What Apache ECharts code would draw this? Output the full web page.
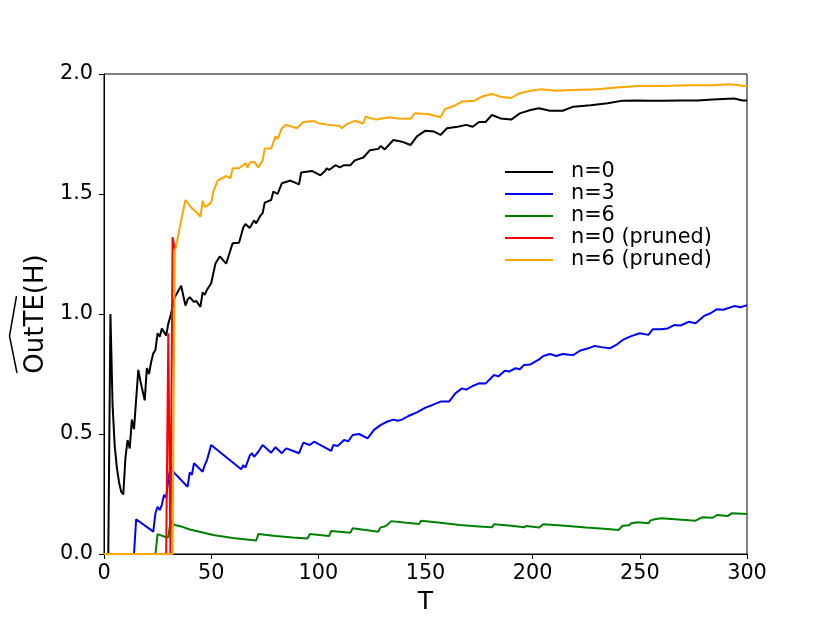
<!DOCTYPE html>
<html>
<head>
<meta charset="utf-8">
<script src="https://cdn.jsdelivr.net/npm/echarts@6/dist/echarts.min.js"></script>
<style>
html,body{margin:0;padding:0;background:#fff;}
#chart{width:830px;height:623px;}
</style>
</head>
<body>
<div id="chart"></div>
<script>
// ---- data: [T, value] ----
const seriesNames = ['n=0', 'n=3', 'n=6', 'n=0 (pruned)', 'n=6 (pruned)'];
const xTicks = [0, 50, 100, 150, 200, 250, 300];
const yTicks = [0.0, 0.5, 1.0, 1.5, 2.0];

const n0 = [[0,0],[2,0],[3,1.0],[4,0.62],[5,0.45],[6,0.36],[7,0.3],[8,0.26],[9,0.248],[10,0.4],[11,0.475],[12,0.44],[13,0.56],[14,0.52],[16,0.767],[17,0.72],[19,0.64],[20,0.775],[21,0.75],[22,0.8],[23,0.836],[24,0.85],[25,0.92],[26,0.905],[27,0.94],[28,0.925],[29,0.91],[30,0.96],[31,0.99],[33,1.07],[36,1.118],[38,1.035],[39,1.06],[40,1.07],[42,1.05],[43,1.055],[45,1.03],[46,1.09],[47,1.08],[48,1.1],[50,1.128],[52,1.21],[54,1.24],[57,1.21],[60,1.295],[63,1.297],[65,1.36],[66,1.375],[68,1.358],[70,1.39],[71,1.378],[73,1.41],[74,1.42],[75,1.464],[78,1.475],[79,1.51],[81,1.5],[83,1.545],[87,1.556],[91,1.54],[92,1.59],[97,1.596],[101,1.578],[103,1.595],[104,1.607],[105,1.6],[108,1.62],[110,1.611],[112,1.62],[115,1.62],[117,1.64],[121,1.652],[124,1.682],[128,1.688],[129,1.7],[131,1.686],[135,1.725],[139,1.718],[143,1.704],[146,1.74],[150,1.764],[154,1.76],[157,1.746],[160,1.774],[165,1.78],[169,1.788],[172,1.78],[175,1.8],[178,1.8],[181,1.829],[185,1.815],[190,1.81],[194,1.836],[199,1.85],[203,1.857],[208,1.847],[214,1.847],[219,1.864],[227,1.87],[235,1.878],[242,1.889],[249,1.89],[255,1.889],[261,1.889],[269,1.89],[277,1.89],[284,1.894],[294,1.898],[298,1.89],[300,1.89]];

const n3 = [[0,0],[14,0],[15,0.145],[23,0.093],[24,0.17],[25,0.197],[26,0.183],[27,0.205],[28,0.246],[29,0.235],[30,0.31],[31,0.36],[33,0.336],[39,0.28],[40,0.34],[41,0.33],[42,0.378],[46,0.343],[47,0.37],[48,0.39],[50,0.454],[64,0.353],[65,0.37],[66,0.36],[68,0.41],[69,0.42],[70,0.405],[72,0.426],[74,0.454],[77,0.43],[78,0.422],[80,0.445],[83,0.42],[85,0.44],[88,0.43],[91,0.42],[93,0.464],[96,0.454],[98,0.468],[106,0.43],[107,0.454],[109,0.45],[112,0.475],[114,0.47],[116,0.496],[119,0.5],[123,0.482],[126,0.517],[129,0.537],[132,0.551],[135,0.56],[137,0.555],[139,0.56],[142,0.575],[146,0.59],[150,0.61],[153,0.62],[157,0.635],[161,0.635],[164,0.67],[167,0.69],[169,0.685],[172,0.7],[175,0.711],[178,0.71],[182,0.746],[184,0.74],[187,0.764],[189,0.76],[192,0.774],[194,0.77],[196,0.788],[199,0.79],[203,0.811],[205,0.825],[208,0.833],[211,0.825],[214,0.833],[217,0.83],[219,0.829],[222,0.847],[226,0.857],[229,0.867],[232,0.862],[236,0.857],[239,0.871],[242,0.892],[246,0.908],[250,0.92],[254,0.913],[256,0.936],[260,0.936],[263,0.94],[266,0.954],[269,0.952],[273,0.968],[276,0.961],[280,0.992],[283,1.003],[286,1.02],[289,1.018],[294,1.033],[297,1.028],[300,1.037]];

const n6 = [[0,0],[24,0],[25,0.083],[29,0.07],[30,0.07],[31,0.135],[33,0.121],[36,0.115],[40,0.102],[45,0.092],[51,0.079],[60,0.067],[71,0.056],[72,0.083],[80,0.075],[88,0.069],[95,0.065],[96,0.083],[105,0.075],[106,0.096],[115,0.089],[116,0.107],[128,0.093],[129,0.111],[131,0.115],[132,0.12],[134,0.137],[140,0.131],[147,0.125],[148,0.139],[157,0.13],[166,0.121],[175,0.115],[181,0.111],[182,0.124],[190,0.118],[196,0.111],[197,0.117],[203,0.11],[205,0.124],[215,0.118],[225,0.11],[235,0.104],[240,0.1],[242,0.118],[245,0.12],[246,0.128],[249,0.132],[254,0.128],[255,0.14],[257,0.145],[260,0.149],[268,0.144],[276,0.139],[279,0.153],[284,0.151],[286,0.1625],[291,0.158],[293,0.17],[300,0.167]];

// pruned n=0: visible only up to where it joins the pruned n=6 curve
const n0pruned = [[0,0],[29,0],[30,0.92],[31,0],[32,1.32],[33,1.27]];

const n6pruned = [[0,0],[32,0],[33,1.26],[34,1.3],[36,1.39],[38,1.475],[41,1.44],[43,1.426],[45,1.405],[46,1.472],[47,1.447],[48,1.45],[50,1.464],[51,1.51],[53,1.556],[57,1.575],[59,1.565],[60,1.607],[63,1.607],[66,1.628],[67,1.61],[68,1.63],[70,1.635],[72,1.611],[74,1.64],[75,1.69],[78,1.69],[80,1.74],[81,1.73],[83,1.774],[85,1.788],[90,1.774],[93,1.8],[98,1.804],[100,1.795],[105,1.788],[110,1.783],[111,1.774],[113,1.79],[117,1.805],[121,1.794],[122,1.822],[127,1.81],[133,1.82],[137,1.815],[143,1.814],[145,1.836],[151,1.833],[157,1.82],[159,1.853],[164,1.87],[167,1.885],[173,1.889],[176,1.905],[181,1.917],[185,1.905],[190,1.9],[194,1.92],[199,1.93],[204,1.936],[211,1.93],[219,1.933],[230,1.936],[239,1.944],[249,1.95],[261,1.95],[273,1.953],[284,1.953],[292,1.957],[299,1.95],[300,1.95]];

const colors = ['#000000', '#0000ff', '#008000', '#ff0000', '#ffa500'];
const dataSets = [n0, n3, n6, n0pruned, n6pruned];

const FONT = 'DejaVu Sans';
const chart = echarts.init(document.getElementById('chart'), null, {renderer: 'canvas'});

const option = {
  animation: false,
  backgroundColor: '#ffffff',
  textStyle: {fontFamily: FONT, color: '#000'},
  grid: {left: 104, right: 83, top: 74, bottom: 69, show: true, borderColor: '#000', borderWidth: 1, backgroundColor: 'transparent'},
  legend: {
    left: 500, top: 156, orient: 'vertical',
    itemWidth: 48, itemHeight: 14, itemGap: 0,
    icon: 'path://M0,0 L48,0 L48,2 L0,2 Z',
    textStyle: {fontFamily: FONT, fontSize: 20.8, color: '#000', lineHeight: 22, padding: [0,0,0,13]},
    data: seriesNames.map((n, i) => ({name: n, itemStyle: {color: colors[i]}}))
  },
  xAxis: {
    type: 'value', min: 0, max: 300, interval: 50,
    name: 'T', nameLocation: 'middle', nameGap: 36,
    nameTextStyle: {fontFamily: FONT, fontSize: 25, color: '#000'},
    axisLine: {show: true, onZero: false, lineStyle: {color: '#000', width: 1}},
    axisTick: {show: true, inside: false, length: 5, lineStyle: {color: '#000'}},
    axisLabel: {fontFamily: FONT, fontSize: 20.8, color: '#000', margin: 9,
      formatter: v => xTicks.indexOf(v) >= 0 ? String(v) : ''},
    splitLine: {show: false}
  },
  yAxis: {
    type: 'value', min: 0, max: 2.0, interval: 0.5,
    name: 'OutTE(H)', nameLocation: 'middle', nameGap: 54, nameRotate: 90,
    nameTextStyle: {fontFamily: FONT, fontSize: 26, color: '#000'},
    axisLine: {show: true, onZero: false, lineStyle: {color: '#000', width: 1}},
    axisTick: {show: true, inside: false, length: 5, lineStyle: {color: '#000'}},
    axisLabel: {fontFamily: FONT, fontSize: 20.8, color: '#000', margin: 11,
      formatter: v => yTicks.some(t => Math.abs(t - v) < 1e-9) ? v.toFixed(1) : ''},
    splitLine: {show: false}
  },
  graphic: [{
    type: 'polyline', silent: true,
    shape: {points: [[16.5, 296], [9.5, 336], [17, 373]]},
    style: {stroke: '#000', lineWidth: 1.5, fill: null}
  }],
  series: dataSets.map((d, i) => ({
    name: seriesNames[i], type: 'line', data: d, showSymbol: false, symbol: 'none',
    lineStyle: {color: colors[i], width: 2}, itemStyle: {color: colors[i]},
    z: 2 + i, clip: true
  }))
};
chart.setOption(option);
</script>
</body>
</html>
